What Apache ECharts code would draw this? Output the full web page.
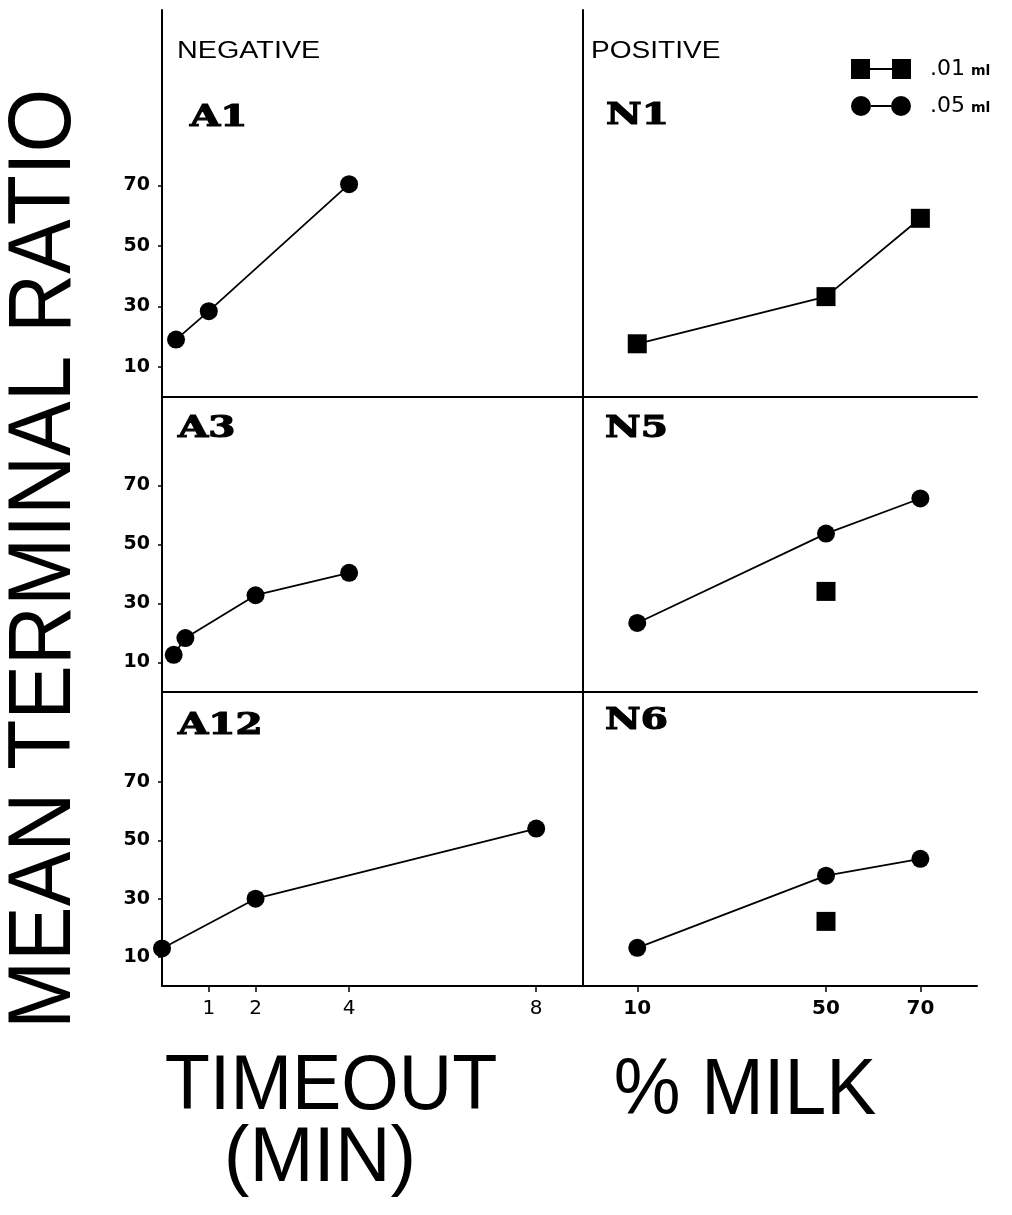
<!DOCTYPE html>
<html>
<head>
<meta charset="utf-8">
<script src="https://cdn.jsdelivr.net/npm/echarts@6/dist/echarts.min.js"></script>
<style>
  html, body { margin: 0; padding: 0; background: #fff; }
  #chart { width: 1012px; height: 1215px; }
</style>
</head>
<body>
<div id="chart"></div>
<script>
// Timeout panels (negative punishment), x = timeout in minutes
const timeoutA1 = [0.3, 1, 4];
const ratioA1 = [19, 28.4, 70.4];
const timeoutA3 = [0.25, 0.5, 2, 4];
const ratioA3 = [12.6, 18.3, 32.8, 40.4];
const timeoutA12 = [0, 2, 8];
const ratioA12 = [12.9, 30, 54.1];

// Milk panels (positive reinforcement), x = % milk
const milkPct = [10, 50, 70];
const ratioN1_01 = [17.6, 33.2, 59.1];
const ratioN5_05 = [23.4, 53.7, 65.6];
const ratioN5_01 = [null, 34.1, null];
const ratioN6_05 = [13.1, 37.9, 43.7];
const ratioN6_01 = [null, 22.2, null];

// Axis ticks
const ratioTicks = [10, 30, 50, 70];
const timeoutTicks = [1, 2, 4, 8];
const milkTicks = [10, 50, 70];

const panelNames = ['A1', 'N1', 'A3', 'N5', 'A12', 'N6'];
const SERIES_01 = '.01 ml';
const SERIES_05 = '.05 ml';

const pair = (xs, ys) => xs.map((x, i) => [x, ys[i]]).filter(p => p[1] != null);

const INK = '#000';
const SANS = '"Liberation Sans", Arial, sans-serif';
const TICK_FONT = '"DejaVu Sans", sans-serif';

// Grid geometry: two columns, three rows sharing edges
const colLeft = [162, 583];
const colWidth = [421, 394];
const rowTop = [10, 397, 692];
const rowHeight = [387, 295, 294];
const rowMax = [128, 100, 101];

const grids = [], xAxes = [], yAxes = [];
for (let r = 0; r < 3; r++) {
  for (let c = 0; c < 2; c++) {
    const gi = grids.length;
    grids.push({ left: colLeft[c], top: rowTop[r], width: colWidth[c], height: rowHeight[r], containLabel: false });
    const bottomRow = r === 2;
    const ticks = c === 0 ? timeoutTicks : milkTicks;
    xAxes.push({
      type: 'value', gridIndex: gi,
      min: c === 0 ? 0 : -1.5, max: c === 0 ? 9 : 82,
      axisLine: { show: true, onZero: false, lineStyle: { color: INK, width: 2 } },
      splitLine: { show: false },
      axisTick: { show: bottomRow, customValues: ticks, length: 6, lineStyle: { color: INK, width: 1.5 } },
      axisLabel: {
        show: bottomRow, customValues: ticks, margin: 13, color: INK,
        fontSize: 20, fontWeight: c === 0 ? 'normal' : 'bold', fontFamily: TICK_FONT
      }
    });
    yAxes.push({
      type: 'value', gridIndex: gi, min: 0, max: rowMax[r],
      axisLine: { show: true, onZero: false, lineStyle: { color: INK, width: 2 } },
      splitLine: { show: false },
      axisTick: { show: c === 0, customValues: ratioTicks, length: 4, lineStyle: { color: INK, width: 1.5 } },
      axisLabel: {
        show: c === 0, customValues: ratioTicks, margin: 12, color: INK,
        fontSize: 19, fontWeight: 'bold', fontFamily: TICK_FONT
      }
    });
  }
}

function lineSeries(name, gi, data, symbol) {
  return {
    name, type: 'line', xAxisIndex: gi, yAxisIndex: gi, data,
    symbol, symbolSize: symbol === 'rect' ? 19 : 18, showSymbol: true, clip: false,
    lineStyle: { color: INK, width: 1.8 }, itemStyle: { color: INK, opacity: 1 }
  };
}
function dotSeries(name, gi, data) {
  return {
    name, type: 'scatter', xAxisIndex: gi, yAxisIndex: gi, data,
    symbol: 'rect', symbolSize: 19, itemStyle: { color: INK, opacity: 1 }
  };
}

const series = [
  lineSeries(SERIES_05, 0, pair(timeoutA1, ratioA1), 'circle'),
  lineSeries(SERIES_01, 1, pair(milkPct, ratioN1_01), 'rect'),
  lineSeries(SERIES_05, 2, pair(timeoutA3, ratioA3), 'circle'),
  lineSeries(SERIES_05, 3, pair(milkPct, ratioN5_05), 'circle'),
  dotSeries(SERIES_01, 3, pair(milkPct, ratioN5_01)),
  lineSeries(SERIES_05, 4, pair(timeoutA12, ratioA12), 'circle'),
  lineSeries(SERIES_05, 5, pair(milkPct, ratioN6_05), 'circle'),
  dotSeries(SERIES_01, 5, pair(milkPct, ratioN6_01))
];

// Panel name positions (left edge, vertical middle)
const panelPos = [[190, 118], [606, 116], [178, 429], [605, 429], [178, 726], [605, 721]];
const panelFont = 'bold 30px "DejaVu Serif", serif';

const graphics = panelNames.map((t, i) => ({
  type: 'text', x: panelPos[i][0], y: panelPos[i][1], scaleX: 1.3,
  style: {
    text: t, font: panelFont, fill: INK, stroke: INK, lineWidth: 1.2,
    textAlign: 'left', textVerticalAlign: 'middle'
  }
}));

graphics.push(
  { type: 'text', x: 177, y: 52, scaleX: 1.25,
    style: { text: 'NEGATIVE', font: '23px ' + SANS, fill: INK, textAlign: 'left', textVerticalAlign: 'middle' } },
  { type: 'text', x: 591, y: 52, scaleX: 1.22,
    style: { text: 'POSITIVE', font: '23px ' + SANS, fill: INK, textAlign: 'left', textVerticalAlign: 'middle' } },
  { type: 'text', x: 45, y: 559, rotation: Math.PI / 2, scaleX: 0.92,
    style: { text: 'MEAN TERMINAL RATIO', font: '89px ' + SANS, fill: INK, textAlign: 'center', textVerticalAlign: 'middle' } },
  { type: 'text', x: 331, y: 1088, scaleX: 0.96,
    style: { text: 'TIMEOUT', font: '77px ' + SANS, fill: INK, textAlign: 'center', textVerticalAlign: 'middle' } },
  { type: 'text', x: 320, y: 1160,
    style: { text: '(MIN)', font: '77px ' + SANS, fill: INK, textAlign: 'center', textVerticalAlign: 'middle' } },
  { type: 'text', x: 745, y: 1092, scaleX: 0.95,
    style: { text: '% MILK', font: '79px ' + SANS, fill: INK, textAlign: 'center', textVerticalAlign: 'middle' } }
);

const iconSquares = 'path://M0,0H19V20H0Z M19,9H41V11H19Z M41,0H60V20H41Z';
const iconCircles = 'path://M0,10A10,10,0,1,0,20,10A10,10,0,1,0,0,10Z M20,9H40V11H20Z M40,10A10,10,0,1,0,60,10A10,10,0,1,0,40,10Z';

const option = {
  animation: false,
  backgroundColor: '#fff',
  grid: grids,
  xAxis: xAxes,
  yAxis: yAxes,
  legend: {
    orient: 'vertical', left: 846, top: 53,
    itemWidth: 60, itemHeight: 20, itemGap: 15,
    selectedMode: false,
    data: [{ name: SERIES_01, icon: iconSquares }, { name: SERIES_05, icon: iconCircles }],
    formatter: n => '{a|' + n.split(' ')[0] + '}{b|' + n.split(' ')[1] + '}',
    textStyle: {
      color: INK,
      rich: {
        a: { fontSize: 22, fontFamily: TICK_FONT, color: INK, padding: [0, 6, 0, 14] },
        b: { fontSize: 14, fontWeight: 'bold', fontFamily: TICK_FONT, color: INK, padding: [4, 0, 0, 0] }
      }
    }
  },
  graphic: graphics,
  series
};

const chart = echarts.init(document.getElementById('chart'), null, { renderer: 'canvas' });
chart.setOption(option);
</script>
</body>
</html>
